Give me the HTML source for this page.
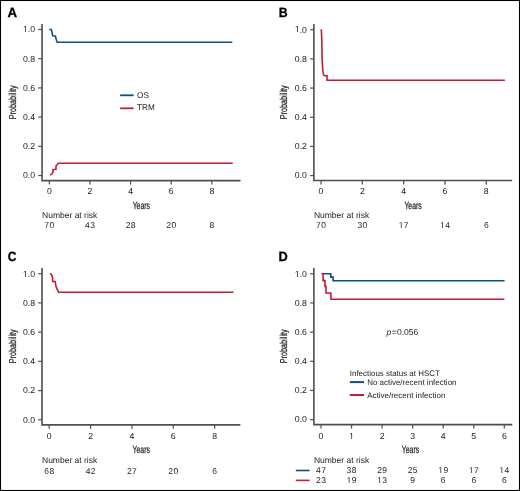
<!DOCTYPE html>
<html><head><meta charset="utf-8"><style>
html,body{margin:0;padding:0;background:#fff;}
svg{display:block;font-family:"Liberation Sans", sans-serif;will-change:transform;text-rendering:geometricPrecision;}
</style></head><body>
<svg width="520" height="491" viewBox="0 0 520 491">
<rect x="0.5" y="0.5" width="519" height="490" fill="#fff" stroke="#000" stroke-width="1.1"/>
<path d="M42.05 23.9 V180.6 H240.5" fill="none" stroke="#4f4d50" stroke-width="1.6" stroke-linejoin="miter"/>
<path d="M38.25 175.5 H42.05" stroke="#4f4d50" stroke-width="1.2"/>
<text x="35.05" y="178.3" font-size="8.7" text-anchor="end" fill="#222222" >0.0</text>
<path d="M38.25 146.3 H42.05" stroke="#4f4d50" stroke-width="1.2"/>
<text x="35.05" y="149.1" font-size="8.7" text-anchor="end" fill="#222222" >0.2</text>
<path d="M38.25 117.1 H42.05" stroke="#4f4d50" stroke-width="1.2"/>
<text x="35.05" y="119.9" font-size="8.7" text-anchor="end" fill="#222222" >0.4</text>
<path d="M38.25 87.9 H42.05" stroke="#4f4d50" stroke-width="1.2"/>
<text x="35.05" y="90.7" font-size="8.7" text-anchor="end" fill="#222222" >0.6</text>
<path d="M38.25 58.7 H42.05" stroke="#4f4d50" stroke-width="1.2"/>
<text x="35.05" y="61.5" font-size="8.7" text-anchor="end" fill="#222222" >0.8</text>
<path d="M38.25 29.5 H42.05" stroke="#4f4d50" stroke-width="1.2"/>
<text x="35.05" y="32.3" font-size="8.7" text-anchor="end" fill="#222222" > .0</text>
<path d="M25.14 32 L25.14 26.75 L23.79 27.71 L23.79 26.99 L25.21 26.01 L25.91 26.01 L25.91 32Z" fill="#222222"/>
<path d="M49.3 180.6 V184.6" stroke="#4f4d50" stroke-width="1.2"/>
<text x="49.3" y="194" font-size="8.7" text-anchor="middle" fill="#222222" >0</text>
<path d="M89.94 180.6 V184.6" stroke="#4f4d50" stroke-width="1.2"/>
<text x="89.94" y="194" font-size="8.7" text-anchor="middle" fill="#222222" >2</text>
<path d="M130.58 180.6 V184.6" stroke="#4f4d50" stroke-width="1.2"/>
<text x="130.58" y="194" font-size="8.7" text-anchor="middle" fill="#222222" >4</text>
<path d="M171.22 180.6 V184.6" stroke="#4f4d50" stroke-width="1.2"/>
<text x="171.22" y="194" font-size="8.7" text-anchor="middle" fill="#222222" >6</text>
<path d="M211.86 180.6 V184.6" stroke="#4f4d50" stroke-width="1.2"/>
<text x="211.86" y="194" font-size="8.7" text-anchor="middle" fill="#222222" >8</text>
<text transform="translate(141.28 208.8) scale(0.66 1)" font-size="10.4" text-anchor="middle" fill="#222222" stroke="#222222" stroke-width="0.25">Years</text>
<text transform="translate(16.4 102.3) rotate(-90) scale(0.725 1)" font-size="10.0" text-anchor="middle" fill="#222222" stroke="#222222" stroke-width="0.25">Probability</text>
<text transform="translate(7.6 16.7) scale(1 1)" font-size="13.3" font-weight="bold" stroke="#000" stroke-width="0.3" fill="#000">A</text>
<text x="42.05" y="218.2" font-size="8.5" text-anchor="start" fill="#222222" >Number at risk</text>
<text x="49.5" y="227.9" font-size="8.5" text-anchor="middle" fill="#222222" letter-spacing="0.4">70</text>
<text x="90.14" y="227.9" font-size="8.5" text-anchor="middle" fill="#222222" letter-spacing="0.4">43</text>
<text x="130.78" y="227.9" font-size="8.5" text-anchor="middle" fill="#222222" letter-spacing="0.4">28</text>
<text x="171.42" y="227.9" font-size="8.5" text-anchor="middle" fill="#222222" letter-spacing="0.4">20</text>
<text x="212.06" y="227.9" font-size="8.5" text-anchor="middle" fill="#222222" letter-spacing="0.4">8</text>
<path d="M49.25 29.5 L51.25 29.5 L51.75 31 L52.25 33.5 L52.75 35.75 L55.25 36 L55.75 37.5 L56.25 39.5 L56.75 41 L57.25 42.2 L232.3 42.2" fill="none" stroke="#0f4e83" stroke-width="1.6" stroke-linejoin="miter" stroke-linecap="butt"/>
<path d="M50.25 175.3 L52 173.5 L53 172.5 L53 169.5 L56 169.3 L56 166 L57.25 164.5 L58.25 163.2 L232.8 163.2" fill="none" stroke="#c41c32" stroke-width="1.6" stroke-linejoin="miter" stroke-linecap="butt"/>
<path d="M313.9 24 V180.5 H512.2" fill="none" stroke="#4f4d50" stroke-width="1.6" stroke-linejoin="miter"/>
<path d="M310.1 175.6 H313.9" stroke="#4f4d50" stroke-width="1.2"/>
<text x="306.9" y="178.4" font-size="8.7" text-anchor="end" fill="#222222" >0.0</text>
<path d="M310.1 146.42 H313.9" stroke="#4f4d50" stroke-width="1.2"/>
<text x="306.9" y="149.22" font-size="8.7" text-anchor="end" fill="#222222" >0.2</text>
<path d="M310.1 117.24 H313.9" stroke="#4f4d50" stroke-width="1.2"/>
<text x="306.9" y="120.04" font-size="8.7" text-anchor="end" fill="#222222" >0.4</text>
<path d="M310.1 88.06 H313.9" stroke="#4f4d50" stroke-width="1.2"/>
<text x="306.9" y="90.86" font-size="8.7" text-anchor="end" fill="#222222" >0.6</text>
<path d="M310.1 58.88 H313.9" stroke="#4f4d50" stroke-width="1.2"/>
<text x="306.9" y="61.68" font-size="8.7" text-anchor="end" fill="#222222" >0.8</text>
<path d="M310.1 29.7 H313.9" stroke="#4f4d50" stroke-width="1.2"/>
<text x="306.9" y="32.5" font-size="8.7" text-anchor="end" fill="#222222" > .0</text>
<path d="M296.99 32 L296.99 26.75 L295.64 27.71 L295.64 26.99 L297.06 26.01 L297.76 26.01 L297.76 32Z" fill="#222222"/>
<path d="M321 180.5 V184.5" stroke="#4f4d50" stroke-width="1.2"/>
<text x="321" y="193.9" font-size="8.7" text-anchor="middle" fill="#222222" >0</text>
<path d="M362.32 180.5 V184.5" stroke="#4f4d50" stroke-width="1.2"/>
<text x="362.32" y="193.9" font-size="8.7" text-anchor="middle" fill="#222222" >2</text>
<path d="M403.64 180.5 V184.5" stroke="#4f4d50" stroke-width="1.2"/>
<text x="403.64" y="193.9" font-size="8.7" text-anchor="middle" fill="#222222" >4</text>
<path d="M444.96 180.5 V184.5" stroke="#4f4d50" stroke-width="1.2"/>
<text x="444.96" y="193.9" font-size="8.7" text-anchor="middle" fill="#222222" >6</text>
<path d="M486.28 180.5 V184.5" stroke="#4f4d50" stroke-width="1.2"/>
<text x="486.28" y="193.9" font-size="8.7" text-anchor="middle" fill="#222222" >8</text>
<text transform="translate(413.05 208.8) scale(0.66 1)" font-size="10.4" text-anchor="middle" fill="#222222" stroke="#222222" stroke-width="0.25">Years</text>
<text transform="translate(287.4 102.3) rotate(-90) scale(0.725 1)" font-size="10.0" text-anchor="middle" fill="#222222" stroke="#222222" stroke-width="0.25">Probability</text>
<text transform="translate(278.7 16.7) scale(0.93 1)" font-size="13.3" font-weight="bold" stroke="#000" stroke-width="0.3" fill="#000">B</text>
<text x="313.9" y="218.2" font-size="8.5" text-anchor="start" fill="#222222" >Number at risk</text>
<text x="321.2" y="228" font-size="8.5" text-anchor="middle" fill="#222222" letter-spacing="0.4">70</text>
<text x="362.52" y="228" font-size="8.5" text-anchor="middle" fill="#222222" letter-spacing="0.4">30</text>
<text x="403.84" y="228" font-size="8.5" text-anchor="middle" fill="#222222" letter-spacing="0.4"> 7</text>
<path d="M400.85 228 L400.85 222.87 L399.53 223.81 L399.53 223.1 L400.91 222.15 L401.6 222.15 L401.6 228Z" fill="#222222"/>
<text x="445.16" y="228" font-size="8.5" text-anchor="middle" fill="#222222" letter-spacing="0.4"> 4</text>
<path d="M442.17 228 L442.17 222.87 L440.85 223.81 L440.85 223.1 L442.23 222.15 L442.92 222.15 L442.92 228Z" fill="#222222"/>
<text x="486.48" y="228" font-size="8.5" text-anchor="middle" fill="#222222" letter-spacing="0.4">6</text>
<path d="M321.3 29.3 L321.8 40 L322.1 58.5 L322.6 68 L323.1 72.7 L323.6 74.8 L324.5 75.6 L327 75.8 L327 80.3 L504.9 80.3" fill="none" stroke="#c41c32" stroke-width="1.6" stroke-linejoin="miter" stroke-linecap="butt"/>
<path d="M42 268.1 V424.85 H240.4" fill="none" stroke="#4f4d50" stroke-width="1.6" stroke-linejoin="miter"/>
<path d="M38.2 419.8 H42" stroke="#4f4d50" stroke-width="1.2"/>
<text x="35" y="422.6" font-size="8.7" text-anchor="end" fill="#222222" >0.0</text>
<path d="M38.2 390.58 H42" stroke="#4f4d50" stroke-width="1.2"/>
<text x="35" y="393.38" font-size="8.7" text-anchor="end" fill="#222222" >0.2</text>
<path d="M38.2 361.36 H42" stroke="#4f4d50" stroke-width="1.2"/>
<text x="35" y="364.16" font-size="8.7" text-anchor="end" fill="#222222" >0.4</text>
<path d="M38.2 332.14 H42" stroke="#4f4d50" stroke-width="1.2"/>
<text x="35" y="334.94" font-size="8.7" text-anchor="end" fill="#222222" >0.6</text>
<path d="M38.2 302.92 H42" stroke="#4f4d50" stroke-width="1.2"/>
<text x="35" y="305.72" font-size="8.7" text-anchor="end" fill="#222222" >0.8</text>
<path d="M38.2 273.7 H42" stroke="#4f4d50" stroke-width="1.2"/>
<text x="35" y="276.5" font-size="8.7" text-anchor="end" fill="#222222" > .0</text>
<path d="M25.09 277 L25.09 271.75 L23.74 272.71 L23.74 271.99 L25.16 271.01 L25.86 271.01 L25.86 277Z" fill="#222222"/>
<path d="M49.2 424.85 V428.85" stroke="#4f4d50" stroke-width="1.2"/>
<text x="49.2" y="438.8" font-size="8.7" text-anchor="middle" fill="#222222" >0</text>
<path d="M90.56 424.85 V428.85" stroke="#4f4d50" stroke-width="1.2"/>
<text x="90.56" y="438.8" font-size="8.7" text-anchor="middle" fill="#222222" >2</text>
<path d="M131.92 424.85 V428.85" stroke="#4f4d50" stroke-width="1.2"/>
<text x="131.92" y="438.8" font-size="8.7" text-anchor="middle" fill="#222222" >4</text>
<path d="M173.28 424.85 V428.85" stroke="#4f4d50" stroke-width="1.2"/>
<text x="173.28" y="438.8" font-size="8.7" text-anchor="middle" fill="#222222" >6</text>
<path d="M214.64 424.85 V428.85" stroke="#4f4d50" stroke-width="1.2"/>
<text x="214.64" y="438.8" font-size="8.7" text-anchor="middle" fill="#222222" >8</text>
<text transform="translate(141.2 453.4) scale(0.66 1)" font-size="10.4" text-anchor="middle" fill="#222222" stroke="#222222" stroke-width="0.25">Years</text>
<text transform="translate(16.4 346.3) rotate(-90) scale(0.725 1)" font-size="10.0" text-anchor="middle" fill="#222222" stroke="#222222" stroke-width="0.25">Probability</text>
<text transform="translate(7.7 260.9) scale(0.9 1)" font-size="13.3" font-weight="bold" stroke="#000" stroke-width="0.3" fill="#000">C</text>
<text x="42" y="462.8" font-size="8.5" text-anchor="start" fill="#222222" >Number at risk</text>
<text x="49.4" y="473.7" font-size="8.5" text-anchor="middle" fill="#222222" letter-spacing="0.4">68</text>
<text x="90.76" y="473.7" font-size="8.5" text-anchor="middle" fill="#222222" letter-spacing="0.4">42</text>
<text x="132.12" y="473.7" font-size="8.5" text-anchor="middle" fill="#222222" letter-spacing="0.4">27</text>
<text x="173.48" y="473.7" font-size="8.5" text-anchor="middle" fill="#222222" letter-spacing="0.4">20</text>
<text x="214.84" y="473.7" font-size="8.5" text-anchor="middle" fill="#222222" letter-spacing="0.4">6</text>
<path d="M50.1 273.2 L51.7 275 L52.5 277.5 L52.8 281.5 L55.2 281.5 L56 286.4 L57 288.9 L58.6 292.3 L233.5 292.3" fill="none" stroke="#c41c32" stroke-width="1.6" stroke-linejoin="miter" stroke-linecap="butt"/>
<path d="M313.9 268.1 V424.6 H512.3" fill="none" stroke="#4f4d50" stroke-width="1.6" stroke-linejoin="miter"/>
<path d="M310.1 419.6 H313.9" stroke="#4f4d50" stroke-width="1.2"/>
<text x="306.9" y="422.4" font-size="8.7" text-anchor="end" fill="#222222" >0.0</text>
<path d="M310.1 390.44 H313.9" stroke="#4f4d50" stroke-width="1.2"/>
<text x="306.9" y="393.24" font-size="8.7" text-anchor="end" fill="#222222" >0.2</text>
<path d="M310.1 361.28 H313.9" stroke="#4f4d50" stroke-width="1.2"/>
<text x="306.9" y="364.08" font-size="8.7" text-anchor="end" fill="#222222" >0.4</text>
<path d="M310.1 332.12 H313.9" stroke="#4f4d50" stroke-width="1.2"/>
<text x="306.9" y="334.92" font-size="8.7" text-anchor="end" fill="#222222" >0.6</text>
<path d="M310.1 302.96 H313.9" stroke="#4f4d50" stroke-width="1.2"/>
<text x="306.9" y="305.76" font-size="8.7" text-anchor="end" fill="#222222" >0.8</text>
<path d="M310.1 273.8 H313.9" stroke="#4f4d50" stroke-width="1.2"/>
<text x="306.9" y="276.6" font-size="8.7" text-anchor="end" fill="#222222" > .0</text>
<path d="M296.99 277 L296.99 271.75 L295.64 272.71 L295.64 271.99 L297.06 271.01 L297.76 271.01 L297.76 277Z" fill="#222222"/>
<path d="M321 424.6 V428.6" stroke="#4f4d50" stroke-width="1.2"/>
<text x="321" y="438.9" font-size="8.7" text-anchor="middle" fill="#222222" >0</text>
<path d="M351.55 424.6 V428.6" stroke="#4f4d50" stroke-width="1.2"/>
<text x="351.55" y="438.9" font-size="8.7" text-anchor="middle" fill="#222222" > </text>
<path d="M351.32 439 L351.32 433.75 L349.97 434.71 L349.97 433.99 L351.38 433.01 L352.09 433.01 L352.09 439Z" fill="#222222"/>
<path d="M382.1 424.6 V428.6" stroke="#4f4d50" stroke-width="1.2"/>
<text x="382.1" y="438.9" font-size="8.7" text-anchor="middle" fill="#222222" >2</text>
<path d="M412.65 424.6 V428.6" stroke="#4f4d50" stroke-width="1.2"/>
<text x="412.65" y="438.9" font-size="8.7" text-anchor="middle" fill="#222222" >3</text>
<path d="M443.2 424.6 V428.6" stroke="#4f4d50" stroke-width="1.2"/>
<text x="443.2" y="438.9" font-size="8.7" text-anchor="middle" fill="#222222" >4</text>
<path d="M473.75 424.6 V428.6" stroke="#4f4d50" stroke-width="1.2"/>
<text x="473.75" y="438.9" font-size="8.7" text-anchor="middle" fill="#222222" >5</text>
<path d="M504.3 424.6 V428.6" stroke="#4f4d50" stroke-width="1.2"/>
<text x="504.3" y="438.9" font-size="8.7" text-anchor="middle" fill="#222222" >6</text>
<text transform="translate(410.5 453.4) scale(0.66 1)" font-size="10.4" text-anchor="middle" fill="#222222" stroke="#222222" stroke-width="0.25">Years</text>
<text transform="translate(287.4 346.3) rotate(-90) scale(0.725 1)" font-size="10.0" text-anchor="middle" fill="#222222" stroke="#222222" stroke-width="0.25">Probability</text>
<text transform="translate(278.6 260.9) scale(0.96 1)" font-size="13.3" font-weight="bold" stroke="#000" stroke-width="0.3" fill="#000">D</text>
<text x="313.9" y="463" font-size="8.5" text-anchor="start" fill="#222222" >Number at risk</text>
<text x="321.2" y="473.4" font-size="8.5" text-anchor="middle" fill="#222222" letter-spacing="0.4">47</text>
<text x="351.75" y="473.4" font-size="8.5" text-anchor="middle" fill="#222222" letter-spacing="0.4">38</text>
<text x="382.3" y="473.4" font-size="8.5" text-anchor="middle" fill="#222222" letter-spacing="0.4">29</text>
<text x="412.85" y="473.4" font-size="8.5" text-anchor="middle" fill="#222222" letter-spacing="0.4">25</text>
<text x="443.4" y="473.4" font-size="8.5" text-anchor="middle" fill="#222222" letter-spacing="0.4"> 9</text>
<path d="M440.41 473 L440.41 467.87 L439.09 468.81 L439.09 468.1 L440.47 467.15 L441.16 467.15 L441.16 473Z" fill="#222222"/>
<text x="473.95" y="473.4" font-size="8.5" text-anchor="middle" fill="#222222" letter-spacing="0.4"> 7</text>
<path d="M470.96 473 L470.96 467.87 L469.64 468.81 L469.64 468.1 L471.02 467.15 L471.71 467.15 L471.71 473Z" fill="#222222"/>
<text x="504.5" y="473.4" font-size="8.5" text-anchor="middle" fill="#222222" letter-spacing="0.4"> 4</text>
<path d="M501.51 473 L501.51 467.87 L500.19 468.81 L500.19 468.1 L501.57 467.15 L502.26 467.15 L502.26 473Z" fill="#222222"/>
<text x="321.2" y="483.4" font-size="8.5" text-anchor="middle" fill="#222222" letter-spacing="0.4">23</text>
<text x="351.75" y="483.4" font-size="8.5" text-anchor="middle" fill="#222222" letter-spacing="0.4"> 9</text>
<path d="M348.76 483 L348.76 477.87 L347.44 478.81 L347.44 478.1 L348.82 477.15 L349.51 477.15 L349.51 483Z" fill="#222222"/>
<text x="382.3" y="483.4" font-size="8.5" text-anchor="middle" fill="#222222" letter-spacing="0.4"> 3</text>
<path d="M379.31 483 L379.31 477.87 L377.99 478.81 L377.99 478.1 L379.37 477.15 L380.06 477.15 L380.06 483Z" fill="#222222"/>
<text x="412.85" y="483.4" font-size="8.5" text-anchor="middle" fill="#222222" letter-spacing="0.4">9</text>
<text x="443.4" y="483.4" font-size="8.5" text-anchor="middle" fill="#222222" letter-spacing="0.4">6</text>
<text x="473.95" y="483.4" font-size="8.5" text-anchor="middle" fill="#222222" letter-spacing="0.4">6</text>
<text x="504.5" y="483.4" font-size="8.5" text-anchor="middle" fill="#222222" letter-spacing="0.4">6</text>
<path d="M323.4 273.8 L330.7 273.8 L330.7 277.1 L333.1 277.1 L333.1 280.7 L504.6 280.7" fill="none" stroke="#0f4e83" stroke-width="1.6" stroke-linejoin="miter" stroke-linecap="butt"/>
<path d="M321.3 273.8 L323.1 273.8 L323.1 280.6 L325 280.6 L325 286.4 L326 286.4 L326 293 L330.9 293 L330.9 299.3 L504.4 299.3" fill="none" stroke="#c41c32" stroke-width="1.6" stroke-linejoin="miter" stroke-linecap="butt"/>
<path d="M120.1 95.3 H133.6" stroke="#0f4e83" stroke-width="1.8"/>
<path d="M120.1 108.3 H133.6" stroke="#c41c32" stroke-width="1.8"/>
<text x="137" y="97.5" font-size="8.3" text-anchor="start" fill="#222222" >OS</text>
<text x="137" y="110.4" font-size="8.2" text-anchor="start" fill="#222222" >TRM</text>
<text y="335.3" font-size="8.6" fill="#222222"><tspan x="386.6" font-style="italic">p</tspan><tspan x="391.8">=</tspan><tspan x="396.9">0.056</tspan></text>
<text x="349.8" y="375.6" font-size="8.08" text-anchor="start" fill="#222222" textLength="90" lengthAdjust="spacingAndGlyphs">Infectious status at HSCT</text>
<path d="M349.8 382.1 H364" stroke="#0f4e83" stroke-width="2"/>
<path d="M349.8 395 H364" stroke="#c41c32" stroke-width="2"/>
<text x="367.2" y="385" font-size="7.96" text-anchor="start" fill="#222222" >No active/recent infection</text>
<text x="367.2" y="397.7" font-size="8.0" text-anchor="start" fill="#222222" >Active/recent infection</text>
<path d="M295.8 470.5 H309.6" stroke="#0f4e83" stroke-width="1.6"/>
<path d="M295.8 480.4 H309.6" stroke="#c41c32" stroke-width="1.6"/>
</svg>
</body></html>
